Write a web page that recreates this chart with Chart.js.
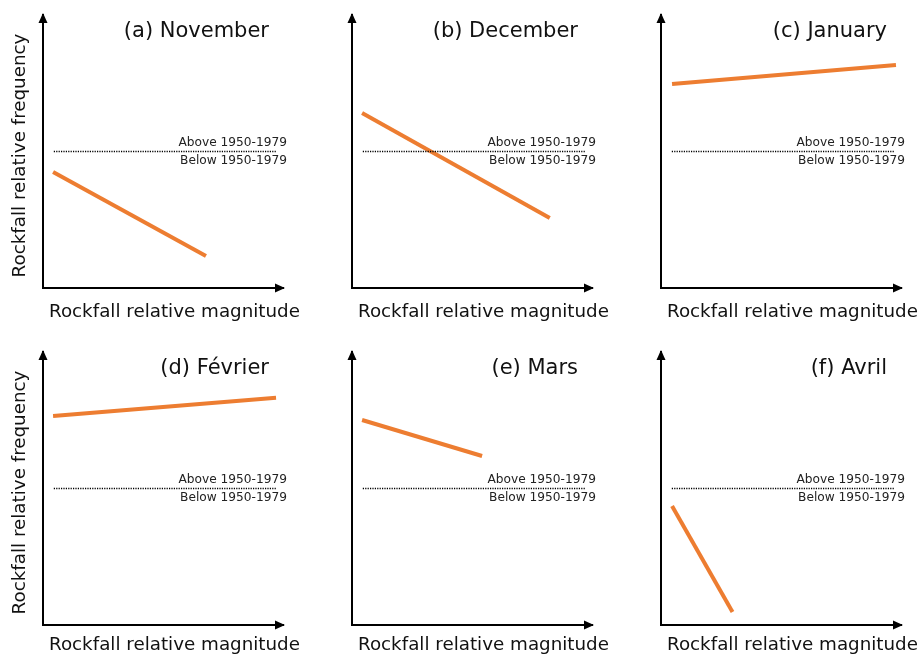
<!DOCTYPE html>
<html>
<head>
<meta charset="utf-8">
<script src="https://cdn.jsdelivr.net/npm/chart.js@4/dist/chart.umd.min.js"></script>
<style>
  html, body { margin: 0; padding: 0; background: #fff; }
  body { width: 917px; height: 657px; overflow: hidden; position: relative; }
  canvas { position: absolute; }
</style>
</head>
<body>
<script>
// panels, in reading order
const panelTitles = ['(a) November', '(b) December', '(c) January', '(d) Février', '(e) Mars', '(f) Avril'];
// trend line end points, axes run 0..100 on both sides
const magnitudeStart = [4.2, 4.2, 4.6, 4.2, 4.2, 4.6];
const magnitudeEnd = [67.9, 82.4, 97.9, 97.1, 54.2, 29.8];
const frequencyStart = [42.5, 64.1, 74.7, 76.6, 75.1, 43.6];
const frequencyEnd = [11.7, 25.6, 81.7, 83.2, 61.9, 4.8];
// reference period line
const baselineLevel = 50;
const baselineFrom = 4.5;
const baselineTo = 97;
const aboveText = 'Above 1950-1979';
const belowText = 'Below 1950-1979';
const xAxisText = 'Rockfall relative magnitude';
const yAxisText = 'Rockfall relative frequency';

const FONT = '"DejaVu Sans", Verdana, sans-serif';
const colLeft = [0, 309, 618];
const rowTop = [0, 337];
const labelDrop = [24, 20];

const panelText = {
  id: 'panelText',
  afterDraw(chart) {
    const o = chart.options.plugins.panelText;
    const {ctx, chartArea: a} = chart;
    const yBase = chart.scales.y.getPixelForValue(baselineLevel);
    ctx.save();
    ctx.fillStyle = '#000';
    // arrow heads
    ctx.beginPath();
    ctx.moveTo(a.left, a.top - 2);
    ctx.lineTo(a.left - 4.5, a.top + 8);
    ctx.lineTo(a.left + 4.5, a.top + 8);
    ctx.closePath();
    ctx.fill();
    ctx.beginPath();
    ctx.moveTo(a.right + 2, a.bottom);
    ctx.lineTo(a.right - 8, a.bottom - 4.5);
    ctx.lineTo(a.right - 8, a.bottom + 4.5);
    ctx.closePath();
    ctx.fill();

    ctx.fillStyle = '#111';
    ctx.textBaseline = 'middle';
    ctx.textAlign = 'right';
    ctx.font = '21px ' + FONT;
    ctx.fillText(o.title, a.right - 14, a.top + 17);

    ctx.fillStyle = '#222';
    ctx.font = '12.2px ' + FONT;
    ctx.fillText(aboveText, a.right + 4, yBase - 8.5);
    ctx.fillText(belowText, a.right + 4, yBase + 9);

    ctx.fillStyle = '#111';
    ctx.textAlign = 'left';
    ctx.font = '18.3px ' + FONT;
    ctx.fillText(xAxisText, a.left + 6, a.bottom + o.drop);

    if (o.yLabel) {
      ctx.translate(20, (a.top + a.bottom) / 2 + 4);
      ctx.rotate(-Math.PI / 2);
      ctx.textAlign = 'center';
      ctx.fillText(yAxisText, 0, 0);
    }
    ctx.restore();
  }
};

panelTitles.forEach((title, i) => {
  const col = i % 3, row = Math.floor(i / 3);
  const cv = document.createElement('canvas');
  cv.width = 309;
  cv.height = 337;
  cv.style.left = colLeft[col] + 'px';
  cv.style.top = rowTop[row] + 'px';
  document.body.appendChild(cv);

  new Chart(cv, {
    type: 'line',
    data: {
      datasets: [
        {
          data: [{x: baselineFrom, y: baselineLevel}, {x: baselineTo, y: baselineLevel}],
          borderColor: '#000',
          borderWidth: 1.4,
          borderDash: [1.2, 1.2],
          pointRadius: 0
        },
        {
          data: [{x: magnitudeStart[i], y: frequencyStart[i]}, {x: magnitudeEnd[i], y: frequencyEnd[i]}],
          borderColor: '#ED7D31',
          borderWidth: 4,
          pointRadius: 0
        }
      ]
    },
    options: {
      responsive: false,
      animation: false,
      layout: { padding: { left: 43, top: 15, right: 26, bottom: 49 } },
      plugins: {
        legend: { display: false },
        tooltip: { enabled: false },
        panelText: { title: title, drop: labelDrop[row], yLabel: col === 0 }
      },
      scales: {
        x: {
          type: 'linear', min: 0, max: 100,
          ticks: { display: false },
          grid: { display: false, drawTicks: false },
          border: { display: true, color: '#000', width: 2 }
        },
        y: {
          type: 'linear', min: 0, max: 100,
          ticks: { display: false },
          grid: { display: false, drawTicks: false },
          border: { display: true, color: '#000', width: 2 }
        }
      }
    },
    plugins: [panelText]
  });
});
</script>
</body>
</html>
